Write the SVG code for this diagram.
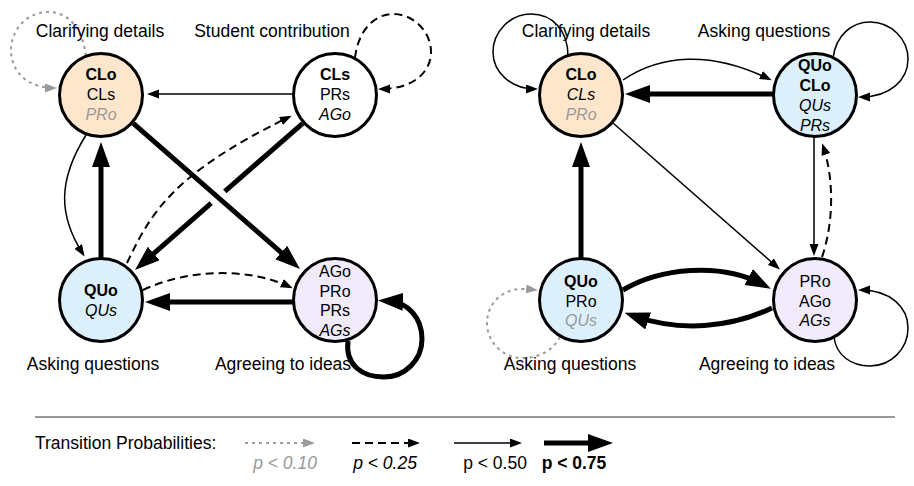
<svg xmlns="http://www.w3.org/2000/svg" width="914" height="486" viewBox="0 0 914 486">
<style>
text{font-family:"Liberation Sans",Arial,sans-serif;}
.lbl{font-size:17.5px;fill:#000;}
.nt{font-size:16px;text-anchor:middle;fill:#000;}
.b{font-weight:bold;}
.i{font-style:italic;}
.g{fill:#999;}
.node{stroke:#000;stroke-width:3;}
.cl{fill:#fde6cb;}
.qu{fill:#dcf0fc;}
.ag{fill:#f0eafa;}
.st{fill:#fff;}
.e{fill:none;stroke:#000;}
.thin{stroke-width:1.5;marker-end:url(#mThin);}
.dash{stroke-width:2;stroke-dasharray:8 5;marker-end:url(#mThin);}
.dot{stroke:#9a9a9a;stroke-width:2;stroke-dasharray:3 4;marker-end:url(#mGray);}
.thick{stroke-width:5;marker-end:url(#mThick);}
.nom{marker-end:none;}
</style>
<defs>
<marker id="mThin" markerUnits="userSpaceOnUse" markerWidth="13" markerHeight="10" refX="9" refY="4.5" orient="auto"><path d="M0,0 L12,4.5 L0,9 z" fill="#000"/></marker>
<marker id="mGray" markerUnits="userSpaceOnUse" markerWidth="13" markerHeight="10" refX="9" refY="4.5" orient="auto"><path d="M0,0 L12,4.5 L0,9 z" fill="#9a9a9a"/></marker>
<marker id="mThick" markerUnits="userSpaceOnUse" markerWidth="26" markerHeight="19" refX="15" refY="9" orient="auto"><path d="M0,0 L25,9 L0,18 z" fill="#000"/></marker>
</defs>
<rect width="914" height="486" fill="#fff"/>

<g id="connectors">
<!-- left diagram -->
<path class="e dot" d="M86 56 C82 25,66 12,48 12 C27 12,11 30,11 50 C11 72,28 88,54 88"/>
<path class="e dash" d="M355 58 C358 30,375 14,393 14 C414 14,431 32,431 52 C431 73,412 89,381 89"/>
<path class="e thin" d="M293 94 L150 94"/>
<path class="e thin" d="M86 135 C58 180,58 215,83 254"/>
<path class="e thick" d="M101 258 L101 152"/>
<path class="e thick nom" d="M302.7 123.3 L224.8 191.4"/>
<path class="e thick" d="M211.2 203.2 L142.5 263.4"/>
<path class="e thick" d="M133.3 123.3 L292.5 262.4"/>
<path class="e dash" d="M127 263 C150 215,170 175,289 117"/>
<path class="e dash" d="M143 290 C190 268,250 268,290 287"/>
<path class="e thick" d="M293 302 L155 302"/>
<path class="e thick" d="M348 341 C345 365,362 377,384 377 C405 377,422 360,422 339 C422 318,408 302,388 301"/>
<!-- right diagram -->
<path class="e thin" d="M568 56 C568 30,552 14,531 14 C510 14,493 32,493 52 C493 73,512 89,535 89"/>
<path class="e thin" d="M623 80 C660 55,710 50,769 79"/>
<path class="e thick" d="M773 94 L635 94"/>
<path class="e thin" d="M833 58 C836 35,852 22,870 22 C891 22,908 39,908 59 C908 80,890 97,861 97"/>
<path class="e thin" d="M814 138 L814 253"/>
<path class="e dash" d="M822 257 C834 222,834 178,823 146"/>
<path class="e thin" d="M613.3 123.3 L777.7 267.5"/>
<path class="e thick" d="M581 258 L581 152"/>
<path class="e dot" d="M560 337 C553 350,540 358,522 358 C503 358,487 342,487 323 C487 304,502 289,522 289 C527 289,531 289.5,535 290"/>
<path class="e thick" d="M623 290 C660 268,720 262,762 284"/>
<path class="e thick" d="M772 308 C730 328,680 332,634 316"/>
<path class="e thin" d="M834 337 C836 355,851 366,870 366 C891 366,908 349,908 328 C908 307,890 290,861 290"/>
</g>

<!-- left nodes -->
<g id="L-CL">
<circle class="node cl" cx="101" cy="95" r="41.5"/>
<text class="nt b" x="101" y="80">CLo</text>
<text class="nt" x="101" y="100">CLs</text>
<text class="nt i g" x="101" y="120">PRo</text>
</g>
<g id="L-ST">
<circle class="node st" cx="335" cy="95" r="41.5"/>
<text class="nt b" x="335" y="80">CLs</text>
<text class="nt" x="335" y="100">PRs</text>
<text class="nt i" x="335" y="120">AGo</text>
</g>
<g id="L-QU">
<circle class="node qu" cx="101" cy="300" r="41.5"/>
<text class="nt b" x="101" y="296">QUo</text>
<text class="nt i" x="101" y="316">QUs</text>
</g>
<g id="L-AG">
<circle class="node ag" cx="335" cy="300" r="41.5"/>
<text class="nt" x="335" y="277">AGo</text>
<text class="nt" x="335" y="297">PRo</text>
<text class="nt" x="335" y="316">PRs</text>
<text class="nt i" x="335" y="336">AGs</text>
</g>

<!-- right nodes -->
<g id="R-CL">
<circle class="node cl" cx="581" cy="95" r="41.5"/>
<text class="nt b" x="581" y="80">CLo</text>
<text class="nt i" x="581" y="100">CLs</text>
<text class="nt i g" x="581" y="120">PRo</text>
</g>
<g id="R-QU1">
<circle class="node qu" cx="815" cy="95" r="41.5"/>
<text class="nt b" x="815" y="70.5">QUo</text>
<text class="nt b" x="815" y="90.5">CLo</text>
<text class="nt i" x="815" y="110.5">QUs</text>
<text class="nt i" x="815" y="130.5">PRs</text>
</g>
<g id="R-QU2">
<circle class="node qu" cx="581" cy="300" r="41.5"/>
<text class="nt b" x="581" y="287">QUo</text>
<text class="nt" x="581" y="306.5">PRo</text>
<text class="nt i g" x="581" y="326">QUs</text>
</g>
<g id="R-AG">
<circle class="node ag" cx="815" cy="300" r="41.5"/>
<text class="nt" x="815" y="287">PRo</text>
<text class="nt" x="815" y="306.5">AGo</text>
<text class="nt i" x="815" y="326">AGs</text>
</g>

<!-- labels -->
<g id="labels">
<text class="lbl" x="100" y="37" text-anchor="middle">Clarifying details</text>
<text class="lbl" x="272" y="37" text-anchor="middle">Student contribution</text>
<text class="lbl" x="93" y="370" text-anchor="middle">Asking questions</text>
<text class="lbl" x="283" y="370" text-anchor="middle">Agreeing to ideas</text>
<text class="lbl" x="586" y="37" text-anchor="middle">Clarifying details</text>
<text class="lbl" x="764" y="37" text-anchor="middle">Asking questions</text>
<text class="lbl" x="570" y="370" text-anchor="middle">Asking questions</text>
<text class="lbl" x="767" y="370" text-anchor="middle">Agreeing to ideas</text>
</g>

<!-- legend -->
<g id="legend">
<path d="M35 417 L895 417" stroke="#999" stroke-width="2" fill="none"/>
<text class="lbl" x="35" y="449">Transition Probabilities:</text>
<path class="e dot" d="M245 443 L312 443"/>
<path class="e dash" d="M352 443 L417 443"/>
<path class="e thin" d="M454 443 L519 443"/>
<path class="e thick" d="M544 443 L603 443"/>
<text class="lbl i g" x="285" y="469" text-anchor="middle">p &lt; 0.10</text>
<text class="lbl i" x="385" y="469" text-anchor="middle">p &lt; 0.25</text>
<text class="lbl" x="495" y="469" text-anchor="middle">p &lt; 0.50</text>
<text class="lbl b" x="574" y="469" text-anchor="middle">p &lt; 0.75</text>
</g>
</svg>
